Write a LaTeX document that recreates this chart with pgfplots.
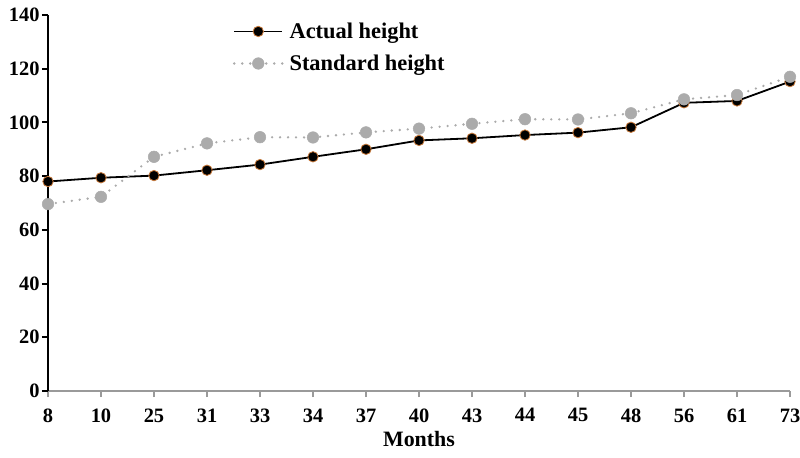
\documentclass[border=0pt]{standalone}
\usepackage{fontspec}
\setmainfont{Liberation Serif}
\usepackage{pgfplots}
\pgfplotsset{compat=1.18}
\definecolor{stdgray}{HTML}{ABABAB}
\definecolor{edgeor}{HTML}{C8793A}
\definecolor{xaxgray}{HTML}{9A9A9A}
\begin{document}
\begin{tikzpicture}
\useasboundingbox (-48bp,-67bp) rectangle (752bp,391bp);
\begin{axis}[
  at={(0,0)}, anchor=south west,
  scale only axis, width=742bp, height=376bp,
  xmin=0, xmax=14, ymin=0, ymax=140,
  xtick={0,...,14},
  xticklabels={8,10,25,31,33,34,37,40,43,44,45,48,56,61,73},
  ytick={0,20,...,140},
  axis x line*=bottom, axis y line*=left,
  x axis line style={xaxgray, line width=2.6bp, -},
  y axis line style={black, line width=2.6bp, -},
  xtick style={xaxgray, line width=2bp},
  ytick style={black, line width=2bp},
  tick align=outside, major tick length=6bp,
  /pgf/number format/assume math mode=true,
  tick label style={font=\bfseries\fontsize{20.5}{22}\selectfont},
  xticklabel style={yshift=-8bp},
  yticklabel style={xshift=1bp},
  xlabel={Months},
  xlabel style={font=\bfseries\fontsize{22}{24}\selectfont, yshift=-2bp},
  clip=false,
  legend style={at={(0.245,0.99)}, anchor=north west, draw=none, fill=none,
    font=\bfseries\fontsize{22.5}{24}\selectfont, row sep=11bp,
    /tikz/every odd column/.append style={column sep=4bp}},
  legend cell align=left,
  legend image code/.code={\draw[mark repeat=2,mark phase=2,#1] plot coordinates {(0bp,0bp) (24bp,0bp) (48bp,0bp)};},
]
\addplot[black, line width=1.8bp, mark=*, mark size=5.2bp,
  mark options={solid, fill=black, draw=edgeor, line width=0.8bp}]
  coordinates {(0,78) (1,79.4) (2,80.2) (3,82.2) (4,84.3) (5,87.2) (6,90) (7,93.3) (8,94.1) (9,95.3) (10,96.2) (11,98.2) (12,107.3) (13,108) (14,115.2)};
\addlegendentry{Actual height}
\addplot[stdgray, line width=2.6bp, line cap=round, dash pattern=on 0bp off 8bp,
  mark=*, mark size=5.8bp, mark options={solid, fill=stdgray, draw=stdgray, line width=0.5bp}]
  coordinates {(0,69.6) (1,72.3) (2,87.2) (3,92.2) (4,94.5) (5,94.4) (6,96.3) (7,97.7) (8,99.5) (9,101.2) (10,101.1) (11,103.4) (12,108.6) (13,110.2) (14,117)};
\addlegendentry{Standard height}
\end{axis}
\end{tikzpicture}
\end{document}
